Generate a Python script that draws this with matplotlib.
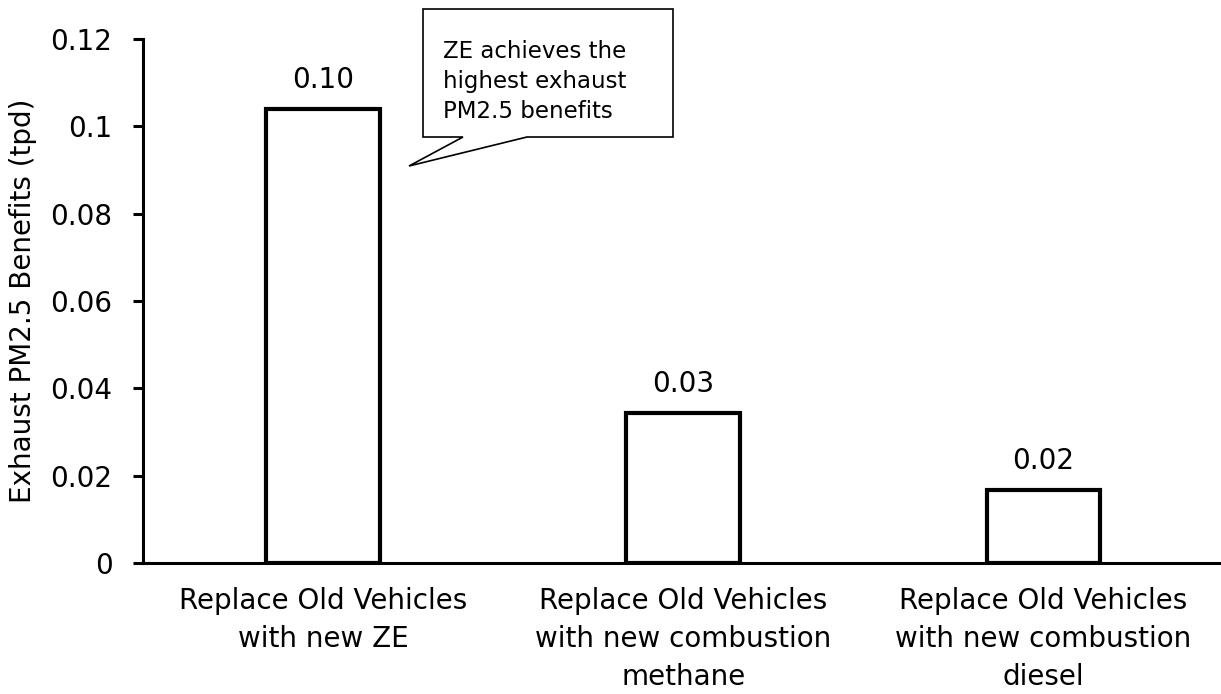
import matplotlib
matplotlib.use("Agg")
import matplotlib.pyplot as plt
from matplotlib.patches import Polygon
from matplotlib.ticker import FuncFormatter

categories = [
    "Replace Old Vehicles\nwith new ZE",
    "Replace Old Vehicles\nwith new combustion\nmethane",
    "Replace Old Vehicles\nwith new combustion\ndiesel",
]
values = [0.104, 0.0343, 0.0167]
value_labels = ["0.10", "0.03", "0.02"]
yticks = [0, 0.02, 0.04, 0.06, 0.08, 0.1, 0.12]
ylabel = "Exhaust PM2.5 Benefits (tpd)"
callout_lines = ["ZE achieves the", "highest exhaust", "PM2.5 benefits"]

plt.rcParams['font.family'] = ['DejaVu Sans']

W, H = 1221, 694
fig = plt.figure(figsize=(W / 100, H / 100), dpi=100)
ax = fig.add_axes([143 / W, 1 - 563 / H, (W - 143) / W + 0.002, (563 - 39) / H])

x = list(range(len(categories)))
bars = ax.bar(x, values, width=0.315, facecolor='white', edgecolor='black',
              linewidth=3.0, zorder=3)
for b, lab in zip(bars, value_labels):
    ax.annotate(lab, (b.get_x() + b.get_width() / 2, b.get_height()),
                xytext=(0, 11), textcoords='offset points',
                ha='center', va='bottom', fontsize=20)

ax.set_xlim(-0.5, len(categories) - 0.5)
ax.set_ylim(0, 0.12)
ax.set_yticks(yticks)
ax.yaxis.set_major_formatter(FuncFormatter(lambda v, p: f"{v:g}"))
ax.set_xticks(x)
ax.set_xticklabels(categories, fontsize=20, linespacing=1.47)

for s in ['top', 'right']:
    ax.spines[s].set_visible(False)
for s in ['left', 'bottom']:
    ax.spines[s].set_linewidth(2.2)
ax.tick_params(axis='y', direction='out', length=7, width=2.2, labelsize=20, pad=15)
ax.tick_params(axis='x', length=0, pad=17)
ax.set_ylabel(ylabel, fontsize=20)
ax.yaxis.set_label_coords(-0.098, 0.5)

# callout box (figure pixel coordinates)
pts = [(423, 9), (673, 9), (673, 137), (527, 137), (409, 166), (463, 137), (423, 137)]
poly = Polygon([(px / W, 1 - py / H) for px, py in pts], closed=True,
               facecolor='white', edgecolor='black', linewidth=1.2,
               transform=fig.transFigure, zorder=5)
fig.patches.append(poly)
for i, line in enumerate(callout_lines):
    fig.text(443 / W, 1 - (58 + 30 * i) / H, line, fontsize=16.5, ha='left',
             va='baseline', zorder=6)

fig.savefig("out.png", dpi=100)
